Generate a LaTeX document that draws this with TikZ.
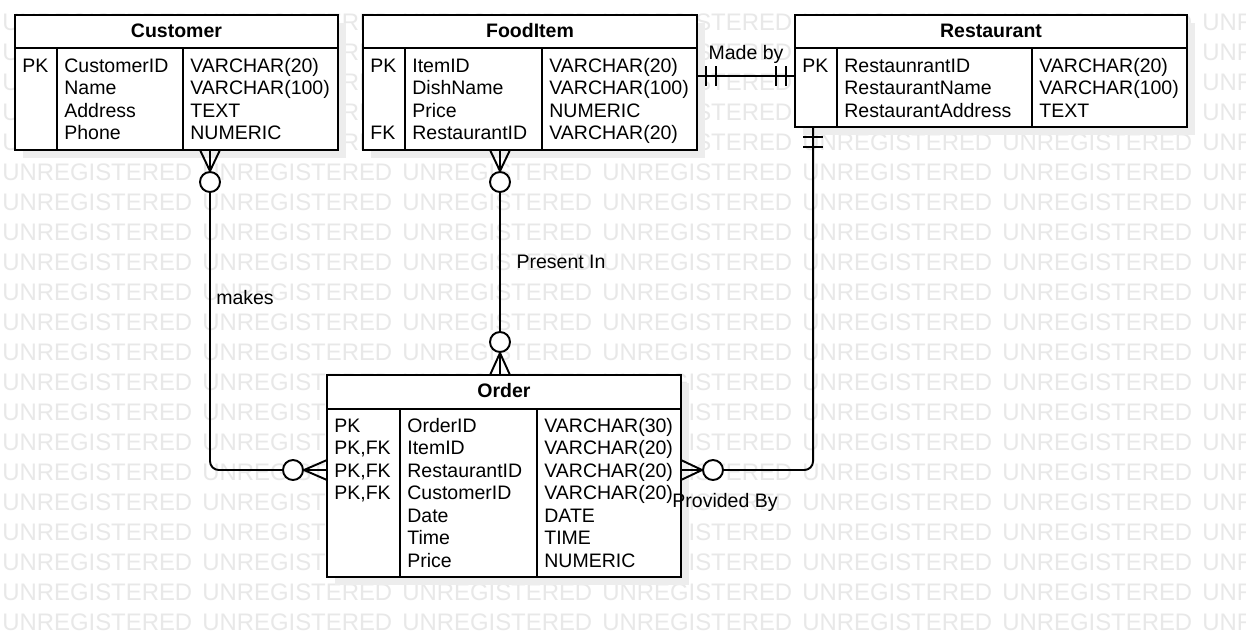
\documentclass[tikz,border=0pt]{standalone}
\usepackage{fontspec}
\setmainfont{Liberation Sans}
\usepackage{tikz}
\usetikzlibrary{calc,shadows}
\newcommand{\rowfont}{\fontsize{11.1}{13}\selectfont}
\newcommand{\wmfont}{\fontsize{13.6}{16}\selectfont}
\tikzset{tbl/.style = {shape=rectangle,draw,fill=white,line width=1.1pt,inner sep=0pt,outer sep=0pt,
  drop shadow={shadow xshift=0.16cm,shadow yshift=-0.16cm,fill=black!7,opacity=1}}}
\tikzset{tline/.style = {-,line width=1.1pt}}
\tikzset{conn/.style = {-,line width=1.1pt}}
\tikzset{zero/.style = {shape=circle,draw,fill=white,line width=1.1pt,minimum size=0.4cm,inner sep=0pt}}
\tikzset{cell/.style = {anchor=base west,inner sep=0pt,font=\rowfont}}
\tikzset{ttl/.style = {anchor=base,inner sep=0pt,font=\rowfont\bfseries}}
\tikzset{lbl/.style = {inner sep=1pt,font=\rowfont}}
\tikzset{wmark/.style = {anchor=west,inner sep=0pt,text=black!9,font=\wmfont}}

\begin{document}
\begin{tikzpicture}[x=0.02cm,y=-0.02cm]
\useasboundingbox[fill=white] (0,0) rectangle (1246,637);
% watermark
\begin{scope}
\clip (0,0) rectangle (1246,637);
\foreach \r in {0,...,20}
  \foreach \c in {0,...,6}
    \node[wmark] (wm-\r-\c) at (2+200*\c,22+30*\r) {UNREGISTERED};
\end{scope}

% tables
\node[tbl,minimum width=6.46cm,minimum height=2.7cm] (cust) at (176.5,82.5) {};
\node[tbl,minimum width=6.68cm,minimum height=2.7cm] (food) at (530,82.5) {};
\node[tbl,minimum width=7.84cm,minimum height=2.24cm] (rest) at (991,71) {};
\node[tbl,minimum width=7.08cm,minimum height=4.04cm] (ord) at (504,476) {};

\draw[tline] ($(cust.north west)+(0,33)$) -- ($(cust.north east)+(0,33)$);
\draw[tline] ($(cust.north west)+(42,33)$) -- ($(cust.south west)+(42,0)$);
\draw[tline] ($(cust.north west)+(168,33)$) -- ($(cust.south west)+(168,0)$);
\draw[tline] ($(food.north west)+(0,33)$) -- ($(food.north east)+(0,33)$);
\draw[tline] ($(food.north west)+(42,33)$) -- ($(food.south west)+(42,0)$);
\draw[tline] ($(food.north west)+(179,33)$) -- ($(food.south west)+(179,0)$);
\draw[tline] ($(rest.north west)+(0,33)$) -- ($(rest.north east)+(0,33)$);
\draw[tline] ($(rest.north west)+(42,33)$) -- ($(rest.south west)+(42,0)$);
\draw[tline] ($(rest.north west)+(237,33)$) -- ($(rest.south west)+(237,0)$);
\draw[tline] ($(ord.north west)+(0,34)$) -- ($(ord.north east)+(0,34)$);
\draw[tline] ($(ord.north west)+(73,34)$) -- ($(ord.south west)+(73,0)$);
\draw[tline] ($(ord.north west)+(210,34)$) -- ($(ord.south west)+(210,0)$);

% titles
\node[ttl] (cust-t) at (176.5,37) {Customer};
\node[ttl] (food-t) at (530,37) {FoodItem};
\node[ttl] (rest-t) at (991,37) {Restaurant};
\node[ttl] (ord-t) at (504,397) {Order};

% rows
\foreach \k/\n/\t [count=\i] in {PK/CustomerID/VARCHAR(20), /Name/VARCHAR(100), /Address/TEXT, /Phone/NUMERIC} {
  \node[cell] (cust-k\i) at (22,49.5+22.5*\i) {\k};
  \node[cell] (cust-n\i) at (64,49.5+22.5*\i) {\n};
  \node[cell] (cust-y\i) at (190,49.5+22.5*\i) {\t};
}
\foreach \k/\n/\t [count=\i] in {PK/ItemID/VARCHAR(20), /DishName/VARCHAR(100), /Price/NUMERIC, FK/RestaurantID/VARCHAR(20)} {
  \node[cell] (food-k\i) at (370,49.5+22.5*\i) {\k};
  \node[cell] (food-n\i) at (412,49.5+22.5*\i) {\n};
  \node[cell] (food-y\i) at (549,49.5+22.5*\i) {\t};
}
\foreach \k/\n/\t [count=\i] in {PK/RestaunrantID/VARCHAR(20), /RestaurantName/VARCHAR(100), /RestaurantAddress/TEXT} {
  \node[cell] (rest-k\i) at (802,49.5+22.5*\i) {\k};
  \node[cell] (rest-n\i) at (844,49.5+22.5*\i) {\n};
  \node[cell] (rest-y\i) at (1039,49.5+22.5*\i) {\t};
}
\foreach \k/\n/\t [count=\i] in {PK/OrderID/VARCHAR(30), {PK,FK}/ItemID/VARCHAR(20), {PK,FK}/RestaurantID/VARCHAR(20), {PK,FK}/CustomerID/VARCHAR(20), /Date/DATE, /Time/TIME, /Price/NUMERIC} {
  \node[cell] (ord-k\i) at (334,409.5+22.5*\i) {\k};
  \node[cell] (ord-n\i) at (407,409.5+22.5*\i) {\n};
  \node[cell] (ord-y\i) at (544,409.5+22.5*\i) {\t};
}

% customer -- order
\node[zero] (z1) at (210,182) {};
\node[zero] (z2) at (293,470) {};
\coordinate (f1) at (cust.south -| z1);
\coordinate (f2) at (ord.west |- z2);
\draw[conn,rounded corners=5pt] (z1.south) |- (z2.west);
\draw[conn] ($(f1)+(-10,0)$) -- (z1.north) -- ($(f1)+(10,0)$) (f1) -- (z1.north);
\draw[conn] ($(f2)+(0,-10)$) -- (z2.east) -- ($(f2)+(0,10)$) (f2) -- (z2.east);
\node[lbl] (l1) at (245,298) {makes};

% fooditem -- order
\node[zero] (z3) at (500,182) {};
\node[zero] (z4) at (500,342) {};
\coordinate (f3) at (food.south -| z3);
\coordinate (f4) at (ord.north -| z4);
\draw[conn] (z3.south) -- (z4.north);
\draw[conn] ($(f3)+(-10,0)$) -- (z3.north) -- ($(f3)+(10,0)$) (f3) -- (z3.north);
\draw[conn] ($(f4)+(-10,0)$) -- (z4.south) -- ($(f4)+(10,0)$) (f4) -- (z4.south);
\node[lbl] (l2) at (561,262) {Present In};

% fooditem -- restaurant
\coordinate (mb) at (746,76);
\draw[conn] (food.east |- mb) -- (rest.west |- mb);
\draw[conn] ($(food.east |- mb)+(9,-10)$) -- +(0,20);
\draw[conn] ($(food.east |- mb)+(19,-10)$) -- +(0,20);
\draw[conn] ($(rest.west |- mb)+(-9,-10)$) -- +(0,20);
\draw[conn] ($(rest.west |- mb)+(-19,-10)$) -- +(0,20);
\node[lbl] (l3) at (746,54) {Made by};

% restaurant -- order
\node[zero] (z5) at (713,470) {};
\coordinate (f5) at ($(rest.south west)+(18,0)$);
\coordinate (f6) at (ord.east |- z5);
\draw[conn,rounded corners=5pt] (f5) |- (z5.east);
\draw[conn] ($(f5)+(-10,10)$) -- +(20,0);
\draw[conn] ($(f5)+(-10,20)$) -- +(20,0);
\draw[conn] ($(f6)+(0,-10)$) -- (z5.west) -- ($(f6)+(0,10)$) (f6) -- (z5.west);
\node[lbl] (l4) at (725,502) {Provided By};
\end{tikzpicture}
\end{document}
